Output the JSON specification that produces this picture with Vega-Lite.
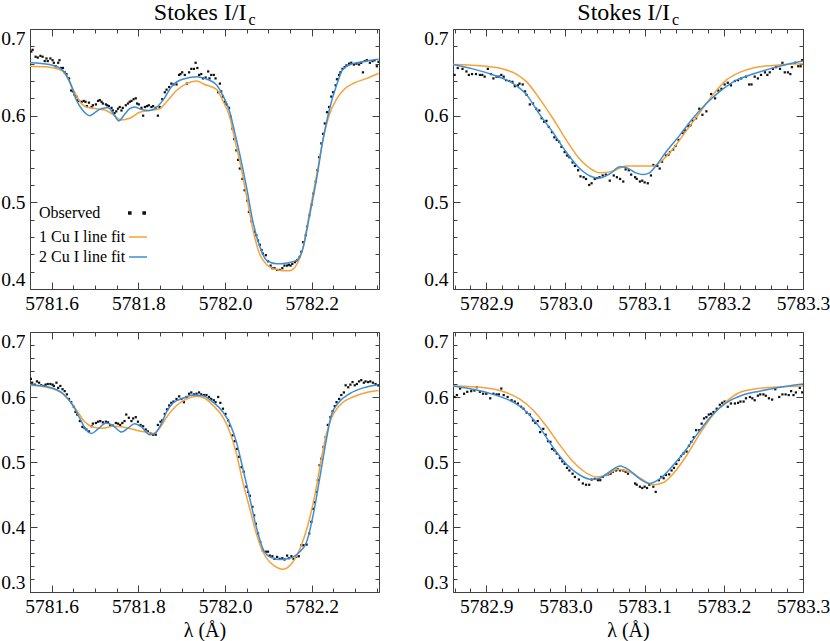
{
"$schema":"https://vega.github.io/schema/vega-lite/v6.json",
"padding":0,
"background":"white",
"config":{
"font":"Liberation Serif",
"view":{"stroke":"#404040","strokeWidth":1},
"axis":{"domain":false,"grid":false,"labelFont":"Liberation Serif","labelFontSize":19.5,"labelColor":"#000","tickColor":"#404040","tickWidth":1,"labelPadding":12,"labelOverlap":false,"labelBound":false,"titleFont":"Liberation Serif","titleFontSize":20,"titleFontWeight":"normal","titleColor":"#000"}
},
"datasets":{
"tl_o":[{"x":5781.553,"y":0.674},{"x":5781.556,"y":0.676},{"x":5781.563,"y":0.668},{"x":5781.568,"y":0.667},{"x":5781.574,"y":0.669},{"x":5781.579,"y":0.668},{"x":5781.584,"y":0.663},{"x":5781.588,"y":0.666},{"x":5781.591,"y":0.663},{"x":5781.597,"y":0.666},{"x":5781.602,"y":0.664},{"x":5781.605,"y":0.661},{"x":5781.609,"y":0.657},{"x":5781.615,"y":0.661},{"x":5781.618,"y":0.664},{"x":5781.622,"y":0.655},{"x":5781.626,"y":0.655},{"x":5781.63,"y":0.65},{"x":5781.634,"y":0.648},{"x":5781.64,"y":0.643},{"x":5781.645,"y":0.629},{"x":5781.649,"y":0.628},{"x":5781.653,"y":0.624},{"x":5781.657,"y":0.622},{"x":5781.659,"y":0.618},{"x":5781.663,"y":0.617},{"x":5781.669,"y":0.616},{"x":5781.674,"y":0.617},{"x":5781.678,"y":0.616},{"x":5781.681,"y":0.611},{"x":5781.686,"y":0.615},{"x":5781.692,"y":0.61},{"x":5781.695,"y":0.612},{"x":5781.702,"y":0.613},{"x":5781.707,"y":0.617},{"x":5781.711,"y":0.618},{"x":5781.715,"y":0.616},{"x":5781.718,"y":0.614},{"x":5781.725,"y":0.613},{"x":5781.728,"y":0.612},{"x":5781.732,"y":0.611},{"x":5781.738,"y":0.609},{"x":5781.741,"y":0.606},{"x":5781.745,"y":0.603},{"x":5781.749,"y":0.605},{"x":5781.753,"y":0.608},{"x":5781.757,"y":0.61},{"x":5781.761,"y":0.606},{"x":5781.764,"y":0.609},{"x":5781.771,"y":0.612},{"x":5781.776,"y":0.614},{"x":5781.78,"y":0.616},{"x":5781.784,"y":0.617},{"x":5781.789,"y":0.619},{"x":5781.794,"y":0.62},{"x":5781.797,"y":0.614},{"x":5781.801,"y":0.613},{"x":5781.807,"y":0.609},{"x":5781.811,"y":0.6},{"x":5781.815,"y":0.61},{"x":5781.82,"y":0.611},{"x":5781.824,"y":0.612},{"x":5781.83,"y":0.61},{"x":5781.834,"y":0.611},{"x":5781.84,"y":0.609},{"x":5781.845,"y":0.6},{"x":5781.849,"y":0.61},{"x":5781.855,"y":0.619},{"x":5781.861,"y":0.627},{"x":5781.865,"y":0.63},{"x":5781.871,"y":0.633},{"x":5781.876,"y":0.637},{"x":5781.881,"y":0.636},{"x":5781.888,"y":0.636},{"x":5781.894,"y":0.647},{"x":5781.897,"y":0.648},{"x":5781.901,"y":0.65},{"x":5781.907,"y":0.647},{"x":5781.912,"y":0.637},{"x":5781.917,"y":0.65},{"x":5781.922,"y":0.654},{"x":5781.928,"y":0.654},{"x":5781.932,"y":0.661},{"x":5781.936,"y":0.655},{"x":5781.94,"y":0.647},{"x":5781.945,"y":0.648},{"x":5781.949,"y":0.643},{"x":5781.955,"y":0.644},{"x":5781.961,"y":0.651},{"x":5781.964,"y":0.643},{"x":5781.968,"y":0.647},{"x":5781.974,"y":0.647},{"x":5781.978,"y":0.643},{"x":5781.984,"y":0.627},{"x":5781.988,"y":0.637},{"x":5781.991,"y":0.628},{"x":5781.995,"y":0.622},{"x":5781.999,"y":0.616},{"x":5782.003,"y":0.613},{"x":5782.009,"y":0.609},{"x":5782.012,"y":0.599},{"x":5782.017,"y":0.585},{"x":5782.021,"y":0.573},{"x":5782.026,"y":0.56},{"x":5782.03,"y":0.549},{"x":5782.034,"y":0.539},{"x":5782.04,"y":0.527},{"x":5782.045,"y":0.514},{"x":5782.051,"y":0.502},{"x":5782.055,"y":0.489},{"x":5782.061,"y":0.478},{"x":5782.068,"y":0.466},{"x":5782.072,"y":0.462},{"x":5782.076,"y":0.456},{"x":5782.08,"y":0.451},{"x":5782.084,"y":0.445},{"x":5782.087,"y":0.441},{"x":5782.094,"y":0.439},{"x":5782.099,"y":0.432},{"x":5782.105,"y":0.427},{"x":5782.109,"y":0.424},{"x":5782.114,"y":0.424},{"x":5782.12,"y":0.422},{"x":5782.126,"y":0.422},{"x":5782.132,"y":0.424},{"x":5782.137,"y":0.427},{"x":5782.143,"y":0.427},{"x":5782.147,"y":0.428},{"x":5782.151,"y":0.427},{"x":5782.155,"y":0.429},{"x":5782.161,"y":0.431},{"x":5782.166,"y":0.433},{"x":5782.172,"y":0.437},{"x":5782.176,"y":0.443},{"x":5782.18,"y":0.454},{"x":5782.186,"y":0.462},{"x":5782.189,"y":0.472},{"x":5782.194,"y":0.485},{"x":5782.199,"y":0.497},{"x":5782.203,"y":0.51},{"x":5782.209,"y":0.524},{"x":5782.213,"y":0.537},{"x":5782.217,"y":0.552},{"x":5782.222,"y":0.568},{"x":5782.226,"y":0.579},{"x":5782.23,"y":0.591},{"x":5782.235,"y":0.604},{"x":5782.24,"y":0.61},{"x":5782.245,"y":0.622},{"x":5782.249,"y":0.627},{"x":5782.255,"y":0.635},{"x":5782.258,"y":0.642},{"x":5782.263,"y":0.647},{"x":5782.266,"y":0.65},{"x":5782.271,"y":0.654},{"x":5782.276,"y":0.656},{"x":5782.28,"y":0.658},{"x":5782.286,"y":0.66},{"x":5782.291,"y":0.661},{"x":5782.297,"y":0.659},{"x":5782.303,"y":0.66},{"x":5782.309,"y":0.659},{"x":5782.314,"y":0.661},{"x":5782.318,"y":0.65},{"x":5782.322,"y":0.663},{"x":5782.327,"y":0.664},{"x":5782.334,"y":0.661},{"x":5782.34,"y":0.663},{"x":5782.345,"y":0.664},{"x":5782.35,"y":0.657},{"x":5782.354,"y":0.662}],
"tl_a":[{"x":5781.549,"y":0.657},{"x":5781.595,"y":0.656},{"x":5781.626,"y":0.651},{"x":5781.645,"y":0.635},{"x":5781.664,"y":0.617},{"x":5781.68,"y":0.61},{"x":5781.703,"y":0.608},{"x":5781.726,"y":0.606},{"x":5781.745,"y":0.6},{"x":5781.76,"y":0.595},{"x":5781.78,"y":0.597},{"x":5781.803,"y":0.604},{"x":5781.826,"y":0.606},{"x":5781.849,"y":0.608},{"x":5781.865,"y":0.616},{"x":5781.888,"y":0.629},{"x":5781.911,"y":0.637},{"x":5781.934,"y":0.64},{"x":5781.953,"y":0.636},{"x":5781.981,"y":0.63},{"x":5781.994,"y":0.618},{"x":5782.011,"y":0.598},{"x":5782.022,"y":0.573},{"x":5782.034,"y":0.547},{"x":5782.05,"y":0.506},{"x":5782.064,"y":0.469},{"x":5782.08,"y":0.44},{"x":5782.096,"y":0.428},{"x":5782.114,"y":0.423},{"x":5782.133,"y":0.421},{"x":5782.149,"y":0.421},{"x":5782.165,"y":0.428},{"x":5782.179,"y":0.446},{"x":5782.195,"y":0.489},{"x":5782.211,"y":0.531},{"x":5782.225,"y":0.57},{"x":5782.241,"y":0.602},{"x":5782.257,"y":0.619},{"x":5782.276,"y":0.631},{"x":5782.299,"y":0.638},{"x":5782.327,"y":0.643},{"x":5782.354,"y":0.649}],
"tl_b":[{"x":5781.549,"y":0.661},{"x":5781.595,"y":0.659},{"x":5781.626,"y":0.652},{"x":5781.642,"y":0.639},{"x":5781.657,"y":0.618},{"x":5781.672,"y":0.606},{"x":5781.688,"y":0.6},{"x":5781.698,"y":0.603},{"x":5781.714,"y":0.608},{"x":5781.73,"y":0.609},{"x":5781.744,"y":0.601},{"x":5781.755,"y":0.594},{"x":5781.766,"y":0.6},{"x":5781.78,"y":0.608},{"x":5781.791,"y":0.61},{"x":5781.807,"y":0.607},{"x":5781.824,"y":0.606},{"x":5781.838,"y":0.608},{"x":5781.857,"y":0.618},{"x":5781.879,"y":0.635},{"x":5781.902,"y":0.642},{"x":5781.934,"y":0.645},{"x":5781.953,"y":0.643},{"x":5781.981,"y":0.635},{"x":5781.994,"y":0.624},{"x":5782.011,"y":0.604},{"x":5782.022,"y":0.581},{"x":5782.034,"y":0.555},{"x":5782.05,"y":0.516},{"x":5782.064,"y":0.478},{"x":5782.08,"y":0.449},{"x":5782.096,"y":0.433},{"x":5782.119,"y":0.429},{"x":5782.142,"y":0.43},{"x":5782.165,"y":0.433},{"x":5782.179,"y":0.446},{"x":5782.195,"y":0.485},{"x":5782.211,"y":0.527},{"x":5782.225,"y":0.57},{"x":5782.241,"y":0.608},{"x":5782.257,"y":0.635},{"x":5782.271,"y":0.653},{"x":5782.294,"y":0.66},{"x":5782.327,"y":0.663},{"x":5782.354,"y":0.665}],
"tr_o":[{"x":5782.86,"y":0.647},{"x":5782.864,"y":0.655},{"x":5782.87,"y":0.654},{"x":5782.875,"y":0.651},{"x":5782.878,"y":0.647},{"x":5782.882,"y":0.648},{"x":5782.887,"y":0.648},{"x":5782.892,"y":0.647},{"x":5782.895,"y":0.647},{"x":5782.898,"y":0.645},{"x":5782.902,"y":0.654},{"x":5782.906,"y":0.648},{"x":5782.909,"y":0.643},{"x":5782.913,"y":0.645},{"x":5782.916,"y":0.645},{"x":5782.919,"y":0.647},{"x":5782.922,"y":0.645},{"x":5782.925,"y":0.641},{"x":5782.929,"y":0.64},{"x":5782.933,"y":0.639},{"x":5782.936,"y":0.634},{"x":5782.94,"y":0.635},{"x":5782.942,"y":0.637},{"x":5782.946,"y":0.636},{"x":5782.949,"y":0.628},{"x":5782.951,"y":0.624},{"x":5782.955,"y":0.613},{"x":5782.959,"y":0.614},{"x":5782.963,"y":0.608},{"x":5782.967,"y":0.606},{"x":5782.97,"y":0.597},{"x":5782.973,"y":0.593},{"x":5782.976,"y":0.594},{"x":5782.979,"y":0.587},{"x":5782.983,"y":0.581},{"x":5782.986,"y":0.575},{"x":5782.989,"y":0.572},{"x":5782.992,"y":0.57},{"x":5782.995,"y":0.564},{"x":5782.999,"y":0.558},{"x":5783.002,"y":0.554},{"x":5783.005,"y":0.552},{"x":5783.009,"y":0.546},{"x":5783.012,"y":0.542},{"x":5783.016,"y":0.537},{"x":5783.019,"y":0.53},{"x":5783.023,"y":0.529},{"x":5783.026,"y":0.527},{"x":5783.03,"y":0.52},{"x":5783.033,"y":0.522},{"x":5783.037,"y":0.527},{"x":5783.04,"y":0.528},{"x":5783.043,"y":0.529},{"x":5783.047,"y":0.531},{"x":5783.051,"y":0.532},{"x":5783.056,"y":0.525},{"x":5783.061,"y":0.531},{"x":5783.065,"y":0.529},{"x":5783.069,"y":0.527},{"x":5783.073,"y":0.524},{"x":5783.076,"y":0.538},{"x":5783.08,"y":0.537},{"x":5783.083,"y":0.532},{"x":5783.088,"y":0.529},{"x":5783.09,"y":0.527},{"x":5783.094,"y":0.524},{"x":5783.097,"y":0.525},{"x":5783.1,"y":0.523},{"x":5783.104,"y":0.522},{"x":5783.108,"y":0.531},{"x":5783.111,"y":0.543},{"x":5783.116,"y":0.542},{"x":5783.119,"y":0.539},{"x":5783.122,"y":0.547},{"x":5783.127,"y":0.554},{"x":5783.13,"y":0.555},{"x":5783.132,"y":0.558},{"x":5783.136,"y":0.561},{"x":5783.139,"y":0.565},{"x":5783.143,"y":0.572},{"x":5783.148,"y":0.58},{"x":5783.151,"y":0.583},{"x":5783.155,"y":0.588},{"x":5783.158,"y":0.589},{"x":5783.161,"y":0.594},{"x":5783.165,"y":0.597},{"x":5783.169,"y":0.608},{"x":5783.173,"y":0.601},{"x":5783.178,"y":0.605},{"x":5783.184,"y":0.625},{"x":5783.189,"y":0.62},{"x":5783.193,"y":0.629},{"x":5783.197,"y":0.631},{"x":5783.201,"y":0.636},{"x":5783.205,"y":0.638},{"x":5783.209,"y":0.635},{"x":5783.214,"y":0.64},{"x":5783.218,"y":0.641},{"x":5783.222,"y":0.643},{"x":5783.228,"y":0.645},{"x":5783.232,"y":0.636},{"x":5783.235,"y":0.636},{"x":5783.239,"y":0.645},{"x":5783.243,"y":0.643},{"x":5783.247,"y":0.647},{"x":5783.252,"y":0.65},{"x":5783.255,"y":0.647},{"x":5783.258,"y":0.65},{"x":5783.262,"y":0.654},{"x":5783.266,"y":0.656},{"x":5783.271,"y":0.654},{"x":5783.274,"y":0.661},{"x":5783.277,"y":0.65},{"x":5783.281,"y":0.65},{"x":5783.284,"y":0.648},{"x":5783.286,"y":0.656},{"x":5783.29,"y":0.661},{"x":5783.294,"y":0.657},{"x":5783.297,"y":0.657},{"x":5783.299,"y":0.664}],
"tr_a":[{"x":5782.858,"y":0.659},{"x":5782.9,"y":0.657},{"x":5782.921,"y":0.654},{"x":5782.938,"y":0.648},{"x":5782.951,"y":0.639},{"x":5782.967,"y":0.62},{"x":5782.984,"y":0.597},{"x":5783.001,"y":0.572},{"x":5783.018,"y":0.55},{"x":5783.035,"y":0.537},{"x":5783.043,"y":0.534},{"x":5783.06,"y":0.536},{"x":5783.077,"y":0.542},{"x":5783.094,"y":0.542},{"x":5783.111,"y":0.542},{"x":5783.123,"y":0.549},{"x":5783.136,"y":0.562},{"x":5783.153,"y":0.583},{"x":5783.17,"y":0.604},{"x":5783.186,"y":0.624},{"x":5783.203,"y":0.641},{"x":5783.22,"y":0.65},{"x":5783.237,"y":0.655},{"x":5783.262,"y":0.658},{"x":5783.3,"y":0.66}],
"tr_b":[{"x":5782.858,"y":0.659},{"x":5782.883,"y":0.654},{"x":5782.909,"y":0.647},{"x":5782.934,"y":0.637},{"x":5782.951,"y":0.624},{"x":5782.967,"y":0.602},{"x":5782.984,"y":0.581},{"x":5783.001,"y":0.558},{"x":5783.018,"y":0.539},{"x":5783.035,"y":0.529},{"x":5783.043,"y":0.528},{"x":5783.056,"y":0.533},{"x":5783.069,"y":0.541},{"x":5783.077,"y":0.54},{"x":5783.089,"y":0.534},{"x":5783.098,"y":0.532},{"x":5783.106,"y":0.534},{"x":5783.115,"y":0.543},{"x":5783.127,"y":0.558},{"x":5783.144,"y":0.577},{"x":5783.161,"y":0.597},{"x":5783.178,"y":0.614},{"x":5783.195,"y":0.628},{"x":5783.216,"y":0.641},{"x":5783.237,"y":0.648},{"x":5783.258,"y":0.654},{"x":5783.279,"y":0.659},{"x":5783.3,"y":0.663}],
"bl_o":[{"x":5781.552,"y":0.628},{"x":5781.555,"y":0.622},{"x":5781.561,"y":0.619},{"x":5781.566,"y":0.624},{"x":5781.571,"y":0.622},{"x":5781.576,"y":0.618},{"x":5781.582,"y":0.617},{"x":5781.586,"y":0.619},{"x":5781.591,"y":0.62},{"x":5781.597,"y":0.62},{"x":5781.602,"y":0.619},{"x":5781.605,"y":0.617},{"x":5781.611,"y":0.622},{"x":5781.615,"y":0.614},{"x":5781.62,"y":0.617},{"x":5781.625,"y":0.612},{"x":5781.63,"y":0.609},{"x":5781.635,"y":0.604},{"x":5781.64,"y":0.597},{"x":5781.645,"y":0.592},{"x":5781.651,"y":0.585},{"x":5781.655,"y":0.577},{"x":5781.659,"y":0.573},{"x":5781.665,"y":0.563},{"x":5781.671,"y":0.554},{"x":5781.676,"y":0.552},{"x":5781.68,"y":0.55},{"x":5781.686,"y":0.547},{"x":5781.692,"y":0.555},{"x":5781.695,"y":0.559},{"x":5781.702,"y":0.56},{"x":5781.707,"y":0.562},{"x":5781.712,"y":0.563},{"x":5781.718,"y":0.561},{"x":5781.725,"y":0.562},{"x":5781.73,"y":0.561},{"x":5781.735,"y":0.557},{"x":5781.741,"y":0.556},{"x":5781.748,"y":0.56},{"x":5781.753,"y":0.559},{"x":5781.758,"y":0.557},{"x":5781.763,"y":0.56},{"x":5781.768,"y":0.563},{"x":5781.772,"y":0.573},{"x":5781.778,"y":0.568},{"x":5781.784,"y":0.563},{"x":5781.788,"y":0.567},{"x":5781.794,"y":0.569},{"x":5781.799,"y":0.562},{"x":5781.805,"y":0.557},{"x":5781.811,"y":0.555},{"x":5781.817,"y":0.55},{"x":5781.822,"y":0.547},{"x":5781.828,"y":0.544},{"x":5781.834,"y":0.542},{"x":5781.84,"y":0.542},{"x":5781.845,"y":0.557},{"x":5781.851,"y":0.562},{"x":5781.855,"y":0.564},{"x":5781.861,"y":0.574},{"x":5781.866,"y":0.581},{"x":5781.871,"y":0.587},{"x":5781.876,"y":0.591},{"x":5781.881,"y":0.593},{"x":5781.888,"y":0.597},{"x":5781.894,"y":0.601},{"x":5781.899,"y":0.597},{"x":5781.905,"y":0.592},{"x":5781.911,"y":0.6},{"x":5781.917,"y":0.605},{"x":5781.922,"y":0.607},{"x":5781.928,"y":0.604},{"x":5781.934,"y":0.605},{"x":5781.94,"y":0.607},{"x":5781.945,"y":0.604},{"x":5781.951,"y":0.603},{"x":5781.957,"y":0.603},{"x":5781.963,"y":0.6},{"x":5781.968,"y":0.597},{"x":5781.974,"y":0.595},{"x":5781.978,"y":0.592},{"x":5781.984,"y":0.6},{"x":5781.989,"y":0.591},{"x":5781.995,"y":0.582},{"x":5782.001,"y":0.574},{"x":5782.007,"y":0.564},{"x":5782.011,"y":0.556},{"x":5782.017,"y":0.541},{"x":5782.022,"y":0.532},{"x":5782.027,"y":0.52},{"x":5782.032,"y":0.508},{"x":5782.038,"y":0.492},{"x":5782.043,"y":0.485},{"x":5782.049,"y":0.462},{"x":5782.053,"y":0.454},{"x":5782.057,"y":0.448},{"x":5782.063,"y":0.431},{"x":5782.067,"y":0.418},{"x":5782.071,"y":0.405},{"x":5782.076,"y":0.39},{"x":5782.081,"y":0.377},{"x":5782.087,"y":0.364},{"x":5782.094,"y":0.362},{"x":5782.099,"y":0.362},{"x":5782.103,"y":0.356},{"x":5782.109,"y":0.355},{"x":5782.114,"y":0.351},{"x":5782.12,"y":0.354},{"x":5782.126,"y":0.351},{"x":5782.132,"y":0.352},{"x":5782.137,"y":0.35},{"x":5782.143,"y":0.356},{"x":5782.147,"y":0.352},{"x":5782.153,"y":0.355},{"x":5782.158,"y":0.351},{"x":5782.164,"y":0.354},{"x":5782.17,"y":0.355},{"x":5782.176,"y":0.372},{"x":5782.181,"y":0.372},{"x":5782.188,"y":0.373},{"x":5782.194,"y":0.39},{"x":5782.199,"y":0.408},{"x":5782.203,"y":0.428},{"x":5782.207,"y":0.438},{"x":5782.211,"y":0.454},{"x":5782.214,"y":0.472},{"x":5782.218,"y":0.495},{"x":5782.222,"y":0.505},{"x":5782.227,"y":0.523},{"x":5782.232,"y":0.538},{"x":5782.237,"y":0.557},{"x":5782.243,"y":0.569},{"x":5782.248,"y":0.578},{"x":5782.253,"y":0.586},{"x":5782.257,"y":0.592},{"x":5782.263,"y":0.597},{"x":5782.268,"y":0.603},{"x":5782.274,"y":0.607},{"x":5782.278,"y":0.618},{"x":5782.284,"y":0.615},{"x":5782.289,"y":0.619},{"x":5782.294,"y":0.623},{"x":5782.299,"y":0.618},{"x":5782.304,"y":0.62},{"x":5782.309,"y":0.624},{"x":5782.314,"y":0.626},{"x":5782.32,"y":0.622},{"x":5782.324,"y":0.624},{"x":5782.33,"y":0.623},{"x":5782.335,"y":0.624},{"x":5782.341,"y":0.622},{"x":5782.347,"y":0.62},{"x":5782.353,"y":0.618}],
"bl_a":[{"x":5781.549,"y":0.618},{"x":5781.595,"y":0.614},{"x":5781.626,"y":0.605},{"x":5781.657,"y":0.58},{"x":5781.676,"y":0.562},{"x":5781.695,"y":0.554},{"x":5781.718,"y":0.552},{"x":5781.741,"y":0.555},{"x":5781.764,"y":0.554},{"x":5781.795,"y":0.549},{"x":5781.818,"y":0.546},{"x":5781.834,"y":0.544},{"x":5781.849,"y":0.552},{"x":5781.865,"y":0.569},{"x":5781.888,"y":0.587},{"x":5781.911,"y":0.597},{"x":5781.934,"y":0.601},{"x":5781.953,"y":0.598},{"x":5781.972,"y":0.587},{"x":5781.995,"y":0.569},{"x":5782.011,"y":0.546},{"x":5782.026,"y":0.513},{"x":5782.041,"y":0.469},{"x":5782.057,"y":0.428},{"x":5782.072,"y":0.39},{"x":5782.087,"y":0.362},{"x":5782.103,"y":0.346},{"x":5782.122,"y":0.337},{"x":5782.134,"y":0.335},{"x":5782.145,"y":0.338},{"x":5782.161,"y":0.351},{"x":5782.176,"y":0.372},{"x":5782.191,"y":0.403},{"x":5782.207,"y":0.449},{"x":5782.222,"y":0.505},{"x":5782.234,"y":0.544},{"x":5782.245,"y":0.567},{"x":5782.264,"y":0.587},{"x":5782.295,"y":0.6},{"x":5782.326,"y":0.607},{"x":5782.354,"y":0.61}],
"bl_b":[{"x":5781.549,"y":0.619},{"x":5781.595,"y":0.615},{"x":5781.626,"y":0.605},{"x":5781.649,"y":0.587},{"x":5781.665,"y":0.567},{"x":5781.68,"y":0.549},{"x":5781.692,"y":0.544},{"x":5781.707,"y":0.551},{"x":5781.726,"y":0.56},{"x":5781.745,"y":0.554},{"x":5781.761,"y":0.546},{"x":5781.776,"y":0.552},{"x":5781.791,"y":0.559},{"x":5781.807,"y":0.554},{"x":5781.826,"y":0.542},{"x":5781.838,"y":0.544},{"x":5781.853,"y":0.559},{"x":5781.865,"y":0.577},{"x":5781.88,"y":0.591},{"x":5781.903,"y":0.598},{"x":5781.926,"y":0.603},{"x":5781.949,"y":0.602},{"x":5781.972,"y":0.592},{"x":5781.995,"y":0.577},{"x":5782.011,"y":0.559},{"x":5782.026,"y":0.531},{"x":5782.041,"y":0.49},{"x":5782.057,"y":0.444},{"x":5782.072,"y":0.4},{"x":5782.087,"y":0.367},{"x":5782.103,"y":0.354},{"x":5782.126,"y":0.35},{"x":5782.149,"y":0.352},{"x":5782.172,"y":0.362},{"x":5782.188,"y":0.377},{"x":5782.203,"y":0.418},{"x":5782.218,"y":0.474},{"x":5782.234,"y":0.536},{"x":5782.245,"y":0.572},{"x":5782.264,"y":0.593},{"x":5782.287,"y":0.605},{"x":5782.318,"y":0.614},{"x":5782.354,"y":0.619}],
"br_o":[{"x":5782.86,"y":0.6},{"x":5782.863,"y":0.603},{"x":5782.867,"y":0.613},{"x":5782.872,"y":0.605},{"x":5782.876,"y":0.608},{"x":5782.881,"y":0.609},{"x":5782.885,"y":0.61},{"x":5782.888,"y":0.615},{"x":5782.892,"y":0.608},{"x":5782.896,"y":0.605},{"x":5782.9,"y":0.605},{"x":5782.905,"y":0.598},{"x":5782.909,"y":0.605},{"x":5782.913,"y":0.604},{"x":5782.916,"y":0.604},{"x":5782.919,"y":0.613},{"x":5782.922,"y":0.603},{"x":5782.927,"y":0.6},{"x":5782.932,"y":0.595},{"x":5782.936,"y":0.593},{"x":5782.94,"y":0.59},{"x":5782.944,"y":0.585},{"x":5782.947,"y":0.582},{"x":5782.951,"y":0.576},{"x":5782.955,"y":0.573},{"x":5782.959,"y":0.564},{"x":5782.962,"y":0.56},{"x":5782.965,"y":0.563},{"x":5782.968,"y":0.546},{"x":5782.972,"y":0.551},{"x":5782.975,"y":0.542},{"x":5782.978,"y":0.532},{"x":5782.981,"y":0.531},{"x":5782.983,"y":0.52},{"x":5782.986,"y":0.518},{"x":5782.989,"y":0.513},{"x":5782.993,"y":0.506},{"x":5782.996,"y":0.501},{"x":5782.999,"y":0.497},{"x":5783.002,"y":0.491},{"x":5783.005,"y":0.487},{"x":5783.009,"y":0.482},{"x":5783.012,"y":0.477},{"x":5783.017,"y":0.473},{"x":5783.022,"y":0.467},{"x":5783.026,"y":0.465},{"x":5783.03,"y":0.465},{"x":5783.033,"y":0.473},{"x":5783.037,"y":0.474},{"x":5783.041,"y":0.472},{"x":5783.044,"y":0.472},{"x":5783.047,"y":0.477},{"x":5783.051,"y":0.48},{"x":5783.054,"y":0.481},{"x":5783.057,"y":0.482},{"x":5783.06,"y":0.485},{"x":5783.064,"y":0.487},{"x":5783.066,"y":0.489},{"x":5783.069,"y":0.487},{"x":5783.073,"y":0.487},{"x":5783.076,"y":0.485},{"x":5783.079,"y":0.482},{"x":5783.088,"y":0.467},{"x":5783.09,"y":0.465},{"x":5783.094,"y":0.462},{"x":5783.097,"y":0.46},{"x":5783.1,"y":0.462},{"x":5783.103,"y":0.46},{"x":5783.106,"y":0.465},{"x":5783.111,"y":0.462},{"x":5783.114,"y":0.454},{"x":5783.118,"y":0.472},{"x":5783.121,"y":0.477},{"x":5783.124,"y":0.475},{"x":5783.127,"y":0.48},{"x":5783.131,"y":0.481},{"x":5783.134,"y":0.487},{"x":5783.137,"y":0.491},{"x":5783.14,"y":0.497},{"x":5783.143,"y":0.503},{"x":5783.146,"y":0.509},{"x":5783.149,"y":0.513},{"x":5783.153,"y":0.516},{"x":5783.156,"y":0.525},{"x":5783.159,"y":0.531},{"x":5783.162,"y":0.538},{"x":5783.165,"y":0.549},{"x":5783.169,"y":0.549},{"x":5783.172,"y":0.559},{"x":5783.175,"y":0.567},{"x":5783.178,"y":0.569},{"x":5783.181,"y":0.573},{"x":5783.184,"y":0.574},{"x":5783.187,"y":0.577},{"x":5783.191,"y":0.582},{"x":5783.195,"y":0.588},{"x":5783.198,"y":0.591},{"x":5783.201,"y":0.593},{"x":5783.205,"y":0.585},{"x":5783.209,"y":0.59},{"x":5783.214,"y":0.59},{"x":5783.218,"y":0.591},{"x":5783.221,"y":0.593},{"x":5783.225,"y":0.593},{"x":5783.228,"y":0.598},{"x":5783.233,"y":0.6},{"x":5783.236,"y":0.598},{"x":5783.239,"y":0.595},{"x":5783.243,"y":0.602},{"x":5783.246,"y":0.604},{"x":5783.25,"y":0.604},{"x":5783.253,"y":0.602},{"x":5783.257,"y":0.598},{"x":5783.261,"y":0.596},{"x":5783.265,"y":0.612},{"x":5783.27,"y":0.6},{"x":5783.274,"y":0.604},{"x":5783.278,"y":0.604},{"x":5783.282,"y":0.603},{"x":5783.285,"y":0.609},{"x":5783.288,"y":0.603},{"x":5783.291,"y":0.607},{"x":5783.296,"y":0.614},{"x":5783.299,"y":0.607}],
"br_a":[{"x":5782.858,"y":0.617},{"x":5782.9,"y":0.614},{"x":5782.925,"y":0.607},{"x":5782.942,"y":0.597},{"x":5782.959,"y":0.58},{"x":5782.976,"y":0.555},{"x":5782.993,"y":0.526},{"x":5783.01,"y":0.5},{"x":5783.024,"y":0.485},{"x":5783.039,"y":0.477},{"x":5783.052,"y":0.48},{"x":5783.066,"y":0.489},{"x":5783.081,"y":0.485},{"x":5783.096,"y":0.474},{"x":5783.111,"y":0.465},{"x":5783.123,"y":0.468},{"x":5783.136,"y":0.482},{"x":5783.153,"y":0.51},{"x":5783.17,"y":0.544},{"x":5783.186,"y":0.572},{"x":5783.203,"y":0.593},{"x":5783.22,"y":0.607},{"x":5783.237,"y":0.612},{"x":5783.262,"y":0.615},{"x":5783.3,"y":0.617}],
"br_b":[{"x":5782.858,"y":0.617},{"x":5782.883,"y":0.612},{"x":5782.909,"y":0.604},{"x":5782.934,"y":0.592},{"x":5782.951,"y":0.577},{"x":5782.967,"y":0.554},{"x":5782.984,"y":0.523},{"x":5783.001,"y":0.497},{"x":5783.018,"y":0.48},{"x":5783.033,"y":0.473},{"x":5783.043,"y":0.475},{"x":5783.056,"y":0.485},{"x":5783.069,"y":0.494},{"x":5783.081,"y":0.487},{"x":5783.094,"y":0.474},{"x":5783.106,"y":0.467},{"x":5783.119,"y":0.474},{"x":5783.136,"y":0.495},{"x":5783.153,"y":0.52},{"x":5783.17,"y":0.549},{"x":5783.186,"y":0.573},{"x":5783.203,"y":0.591},{"x":5783.224,"y":0.603},{"x":5783.245,"y":0.609},{"x":5783.266,"y":0.614},{"x":5783.3,"y":0.62}]
},
"columns":2,
"spacing":{"row":43,"column":74},
"bounds":"flush",
"concat":[
{"width":349,"height":260,
"layer":[
{"data":{"name":"tl_o"},"mark":{"type":"square","size":5,"filled":true,"opacity":1,"clip":true,"color":"#111111"},
"encoding":{
"x":{"field":"x","type":"quantitative","scale":{"domain":[5781.55,5782.355],"nice":false,"zero":false},"axis":{"orient":"bottom","title":null,"values":[5781.55,5781.6,5781.65,5781.7,5781.75,5781.8,5781.85,5781.9,5781.95,5782,5782.05,5782.1,5782.15,5782.2,5782.25,5782.3,5782.35],"tickSize":{"condition":{"test":"abs(datum.value*5-round(datum.value*5))<0.001","value":-7},"value":-4},"labelExpr":"abs(datum.value*5-round(datum.value*5))<0.001 ? format(datum.value,'.1f') : ''","labelFlush":false}},
"y":{"field":"y","type":"quantitative","scale":{"domain":[0.4,0.7],"nice":false,"zero":false},"axis":{"orient":"left","title":null,"values":[0.4,0.42,0.44,0.46,0.48,0.5,0.52,0.54,0.56,0.58,0.6,0.62,0.64,0.66,0.68,0.7],"tickSize":{"condition":{"test":"abs(datum.value*10-round(datum.value*10))<0.001","value":-7},"value":-4},"labelExpr":"abs(datum.value*10-round(datum.value*10))<0.001 ? format(datum.value,'.1f') : ''","labelFlush":true}},
"opacity":{"datum":"Observed","type":"nominal","scale":{"domain":["Observed"],"range":[1]},
"legend":{"orient":"none","legendX":98,"legendY":175,"title":null,"padding":0,"labelFont":"Liberation Serif","labelFontSize":16,"labelColor":"#000","labelAlign":"left","labelBaseline":"middle","labelOffset":-107,"labelLimit":300,"symbolSize":324,"symbolType":"M-1,-0.2H-0.6V0.2H-1Z M0.6,-0.2H1V0.2H0.6Z","symbolFillColor":"#000000","symbolStrokeWidth":0,"symbolOpacity":1}}
}},
{"data":{"name":"tl_a"},"mark":{"type":"line","strokeWidth":1.5,"interpolate":"monotone","clip":true},
"encoding":{
"x":{"field":"x","type":"quantitative","scale":{"domain":[5781.55,5782.355],"nice":false,"zero":false},"axis":{"orient":"top","title":null,"labels":false,"values":[5781.55,5781.6,5781.65,5781.7,5781.75,5781.8,5781.85,5781.9,5781.95,5782,5782.05,5782.1,5782.15,5782.2,5782.25,5782.3,5782.35],"tickSize":{"condition":{"test":"abs(datum.value*5-round(datum.value*5))<0.001","value":-7},"value":-4}}},
"y":{"field":"y","type":"quantitative","scale":{"domain":[0.4,0.7],"nice":false,"zero":false},"axis":{"orient":"right","title":null,"labels":false,"values":[0.4,0.42,0.44,0.46,0.48,0.5,0.52,0.54,0.56,0.58,0.6,0.62,0.64,0.66,0.68,0.7],"tickSize":{"condition":{"test":"abs(datum.value*10-round(datum.value*10))<0.001","value":-7},"value":-4}}},
"color":{"datum":"1 Cu I line fit","type":"nominal","scale":{"domain":["1 Cu I line fit","2 Cu I line fit"],"range":["#F7A13B","#3B8ED6"]},
"legend":{"orient":"none","legendX":98,"legendY":198,"title":null,"padding":0,"labelFont":"Liberation Serif","labelFontSize":16,"labelColor":"#000","labelAlign":"left","labelBaseline":"middle","labelOffset":-109,"labelLimit":300,"symbolSize":324,"symbolType":"stroke","symbolStrokeWidth":1.5,"rowPadding":2}}
}},
{"data":{"name":"tl_b"},"mark":{"type":"line","strokeWidth":1.5,"interpolate":"monotone","clip":true},
"encoding":{
"x":{"field":"x","type":"quantitative","scale":{"domain":[5781.55,5782.355],"nice":false,"zero":false},"axis":null},
"y":{"field":"y","type":"quantitative","scale":{"domain":[0.4,0.7],"nice":false,"zero":false},"axis":null},
"color":{"datum":"2 Cu I line fit","type":"nominal"}
}},
{"data":{"values":[{"t":"Stokes I/I"}]},"mark":{"type":"text","align":"right","baseline":"alphabetic","dx":42,"dy":-9,"fontSize":24,"font":"Liberation Serif","color":"#000"},
"encoding":{"x":{"datum":5781.9525,"type":"quantitative","axis":null},"y":{"datum":0.7,"type":"quantitative","axis":null},"text":{"field":"t","type":"nominal"}}},
{"data":{"values":[{"t":"c"}]},"mark":{"type":"text","align":"left","baseline":"alphabetic","dx":44,"dy":-4,"fontSize":16,"font":"Liberation Serif","color":"#000"},
"encoding":{"x":{"datum":5781.9525,"type":"quantitative","axis":null},"y":{"datum":0.7,"type":"quantitative","axis":null},"text":{"field":"t","type":"nominal"}}}
],
"resolve":{"axis":{"x":"independent","y":"independent"}}
},
{"width":350,"height":260,
"layer":[
{"data":{"name":"tr_o"},"mark":{"type":"square","size":5,"filled":true,"opacity":1,"clip":true,"color":"#111111"},
"encoding":{
"x":{"field":"x","type":"quantitative","scale":{"domain":[5782.858,5783.3],"nice":false,"zero":false},"axis":{"orient":"bottom","title":null,"values":[5782.86,5782.88,5782.9,5782.92,5782.94,5782.96,5782.98,5783,5783.02,5783.04,5783.06,5783.08,5783.1,5783.12,5783.14,5783.16,5783.18,5783.2,5783.22,5783.24,5783.26,5783.28,5783.3],"tickSize":{"condition":{"test":"abs(datum.value*10-round(datum.value*10))<0.001","value":-7},"value":-4},"labelExpr":"abs(datum.value*10-round(datum.value*10))<0.001 ? format(datum.value,'.1f') : ''","labelFlush":false}},
"y":{"field":"y","type":"quantitative","scale":{"domain":[0.4,0.7],"nice":false,"zero":false},"axis":{"orient":"left","title":null,"values":[0.4,0.42,0.44,0.46,0.48,0.5,0.52,0.54,0.56,0.58,0.6,0.62,0.64,0.66,0.68,0.7],"tickSize":{"condition":{"test":"abs(datum.value*10-round(datum.value*10))<0.001","value":-7},"value":-4},"labelExpr":"abs(datum.value*10-round(datum.value*10))<0.001 ? format(datum.value,'.1f') : ''","labelFlush":true}}
}},
{"data":{"name":"tr_a"},"mark":{"type":"line","strokeWidth":1.5,"interpolate":"monotone","clip":true,"color":"#F7A13B"},
"encoding":{
"x":{"field":"x","type":"quantitative","scale":{"domain":[5782.858,5783.3],"nice":false,"zero":false},"axis":{"orient":"top","title":null,"labels":false,"values":[5782.86,5782.88,5782.9,5782.92,5782.94,5782.96,5782.98,5783,5783.02,5783.04,5783.06,5783.08,5783.1,5783.12,5783.14,5783.16,5783.18,5783.2,5783.22,5783.24,5783.26,5783.28,5783.3],"tickSize":{"condition":{"test":"abs(datum.value*10-round(datum.value*10))<0.001","value":-7},"value":-4}}},
"y":{"field":"y","type":"quantitative","scale":{"domain":[0.4,0.7],"nice":false,"zero":false},"axis":{"orient":"right","title":null,"labels":false,"values":[0.4,0.42,0.44,0.46,0.48,0.5,0.52,0.54,0.56,0.58,0.6,0.62,0.64,0.66,0.68,0.7],"tickSize":{"condition":{"test":"abs(datum.value*10-round(datum.value*10))<0.001","value":-7},"value":-4}}}
}},
{"data":{"name":"tr_b"},"mark":{"type":"line","strokeWidth":1.5,"interpolate":"monotone","clip":true,"color":"#3B8ED6"},
"encoding":{
"x":{"field":"x","type":"quantitative","scale":{"domain":[5782.858,5783.3],"nice":false,"zero":false},"axis":null},
"y":{"field":"y","type":"quantitative","scale":{"domain":[0.4,0.7],"nice":false,"zero":false},"axis":null}
}},
{"data":{"values":[{"t":"Stokes I/I"}]},"mark":{"type":"text","align":"right","baseline":"alphabetic","dx":42,"dy":-9,"fontSize":24,"font":"Liberation Serif","color":"#000"},
"encoding":{"x":{"datum":5783.079,"type":"quantitative","axis":null},"y":{"datum":0.7,"type":"quantitative","axis":null},"text":{"field":"t","type":"nominal"}}},
{"data":{"values":[{"t":"c"}]},"mark":{"type":"text","align":"left","baseline":"alphabetic","dx":44,"dy":-4,"fontSize":16,"font":"Liberation Serif","color":"#000"},
"encoding":{"x":{"datum":5783.079,"type":"quantitative","axis":null},"y":{"datum":0.7,"type":"quantitative","axis":null},"text":{"field":"t","type":"nominal"}}}
],
"resolve":{"axis":{"x":"independent","y":"independent"}}
},
{"width":349,"height":260,
"layer":[
{"data":{"name":"bl_o"},"mark":{"type":"square","size":5,"filled":true,"opacity":1,"clip":true,"color":"#111111"},
"encoding":{
"x":{"field":"x","type":"quantitative","scale":{"domain":[5781.55,5782.355],"nice":false,"zero":false},"axis":{"orient":"bottom","title":"λ (Å)","titlePadding":2,"values":[5781.55,5781.6,5781.65,5781.7,5781.75,5781.8,5781.85,5781.9,5781.95,5782,5782.05,5782.1,5782.15,5782.2,5782.25,5782.3,5782.35],"tickSize":{"condition":{"test":"abs(datum.value*5-round(datum.value*5))<0.001","value":-7},"value":-4},"labelExpr":"abs(datum.value*5-round(datum.value*5))<0.001 ? format(datum.value,'.1f') : ''","labelFlush":false}},
"y":{"field":"y","type":"quantitative","scale":{"domain":[0.3,0.7],"nice":false,"zero":false},"axis":{"orient":"left","title":null,"values":[0.3,0.32,0.34,0.36,0.38,0.4,0.42,0.44,0.46,0.48,0.5,0.52,0.54,0.56,0.58,0.6,0.62,0.64,0.66,0.68,0.7],"tickSize":{"condition":{"test":"abs(datum.value*10-round(datum.value*10))<0.001","value":-7},"value":-4},"labelExpr":"abs(datum.value*10-round(datum.value*10))<0.001 ? format(datum.value,'.1f') : ''","labelFlush":true}}
}},
{"data":{"name":"bl_a"},"mark":{"type":"line","strokeWidth":1.5,"interpolate":"monotone","clip":true,"color":"#F7A13B"},
"encoding":{
"x":{"field":"x","type":"quantitative","scale":{"domain":[5781.55,5782.355],"nice":false,"zero":false},"axis":{"orient":"top","title":null,"labels":false,"values":[5781.55,5781.6,5781.65,5781.7,5781.75,5781.8,5781.85,5781.9,5781.95,5782,5782.05,5782.1,5782.15,5782.2,5782.25,5782.3,5782.35],"tickSize":{"condition":{"test":"abs(datum.value*5-round(datum.value*5))<0.001","value":-7},"value":-4}}},
"y":{"field":"y","type":"quantitative","scale":{"domain":[0.3,0.7],"nice":false,"zero":false},"axis":{"orient":"right","title":null,"labels":false,"values":[0.3,0.32,0.34,0.36,0.38,0.4,0.42,0.44,0.46,0.48,0.5,0.52,0.54,0.56,0.58,0.6,0.62,0.64,0.66,0.68,0.7],"tickSize":{"condition":{"test":"abs(datum.value*10-round(datum.value*10))<0.001","value":-7},"value":-4}}}
}},
{"data":{"name":"bl_b"},"mark":{"type":"line","strokeWidth":1.5,"interpolate":"monotone","clip":true,"color":"#3B8ED6"},
"encoding":{
"x":{"field":"x","type":"quantitative","scale":{"domain":[5781.55,5782.355],"nice":false,"zero":false},"axis":null},
"y":{"field":"y","type":"quantitative","scale":{"domain":[0.3,0.7],"nice":false,"zero":false},"axis":null}
}}
],
"resolve":{"axis":{"x":"independent","y":"independent"}}
},
{"width":350,"height":260,
"layer":[
{"data":{"name":"br_o"},"mark":{"type":"square","size":5,"filled":true,"opacity":1,"clip":true,"color":"#111111"},
"encoding":{
"x":{"field":"x","type":"quantitative","scale":{"domain":[5782.858,5783.3],"nice":false,"zero":false},"axis":{"orient":"bottom","title":"λ (Å)","titlePadding":2,"values":[5782.86,5782.88,5782.9,5782.92,5782.94,5782.96,5782.98,5783,5783.02,5783.04,5783.06,5783.08,5783.1,5783.12,5783.14,5783.16,5783.18,5783.2,5783.22,5783.24,5783.26,5783.28,5783.3],"tickSize":{"condition":{"test":"abs(datum.value*10-round(datum.value*10))<0.001","value":-7},"value":-4},"labelExpr":"abs(datum.value*10-round(datum.value*10))<0.001 ? format(datum.value,'.1f') : ''","labelFlush":false}},
"y":{"field":"y","type":"quantitative","scale":{"domain":[0.3,0.7],"nice":false,"zero":false},"axis":{"orient":"left","title":null,"values":[0.3,0.32,0.34,0.36,0.38,0.4,0.42,0.44,0.46,0.48,0.5,0.52,0.54,0.56,0.58,0.6,0.62,0.64,0.66,0.68,0.7],"tickSize":{"condition":{"test":"abs(datum.value*10-round(datum.value*10))<0.001","value":-7},"value":-4},"labelExpr":"abs(datum.value*10-round(datum.value*10))<0.001 ? format(datum.value,'.1f') : ''","labelFlush":true}}
}},
{"data":{"name":"br_a"},"mark":{"type":"line","strokeWidth":1.5,"interpolate":"monotone","clip":true,"color":"#F7A13B"},
"encoding":{
"x":{"field":"x","type":"quantitative","scale":{"domain":[5782.858,5783.3],"nice":false,"zero":false},"axis":{"orient":"top","title":null,"labels":false,"values":[5782.86,5782.88,5782.9,5782.92,5782.94,5782.96,5782.98,5783,5783.02,5783.04,5783.06,5783.08,5783.1,5783.12,5783.14,5783.16,5783.18,5783.2,5783.22,5783.24,5783.26,5783.28,5783.3],"tickSize":{"condition":{"test":"abs(datum.value*10-round(datum.value*10))<0.001","value":-7},"value":-4}}},
"y":{"field":"y","type":"quantitative","scale":{"domain":[0.3,0.7],"nice":false,"zero":false},"axis":{"orient":"right","title":null,"labels":false,"values":[0.3,0.32,0.34,0.36,0.38,0.4,0.42,0.44,0.46,0.48,0.5,0.52,0.54,0.56,0.58,0.6,0.62,0.64,0.66,0.68,0.7],"tickSize":{"condition":{"test":"abs(datum.value*10-round(datum.value*10))<0.001","value":-7},"value":-4}}}
}},
{"data":{"name":"br_b"},"mark":{"type":"line","strokeWidth":1.5,"interpolate":"monotone","clip":true,"color":"#3B8ED6"},
"encoding":{
"x":{"field":"x","type":"quantitative","scale":{"domain":[5782.858,5783.3],"nice":false,"zero":false},"axis":null},
"y":{"field":"y","type":"quantitative","scale":{"domain":[0.3,0.7],"nice":false,"zero":false},"axis":null}
}}
],
"resolve":{"axis":{"x":"independent","y":"independent"}}
}
]
}
